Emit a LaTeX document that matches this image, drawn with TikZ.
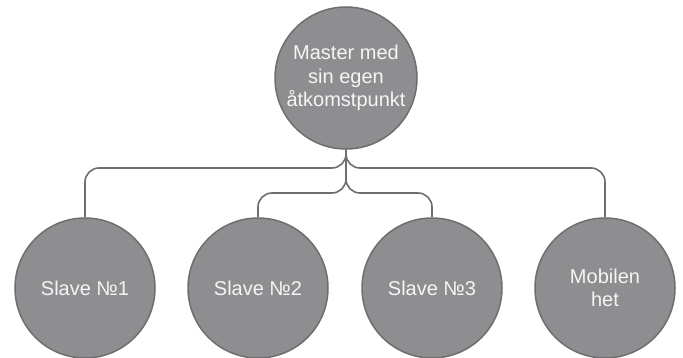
\documentclass[tikz,border=0pt]{standalone}
\usepackage{fontspec}
\setmainfont{Liberation Sans}
\begin{document}
\begin{tikzpicture}[x=1pt,y=-1pt,
  bubble/.style={circle,draw=bordergray,fill=fillgray,line width=1.5pt,minimum size=140pt,inner sep=0pt,
    text=white!92!gray,align=center,font=\fontsize{20}{23.5}\selectfont},
  link/.style={draw=bordergray,line width=1.6pt,rounded corners=14pt}]
\definecolor{fillgray}{HTML}{8E8E91}
\definecolor{bordergray}{HTML}{6E6E71}
\useasboundingbox (0,0) rectangle (683,358);
\node[bubble,minimum size=142pt] (m) at (346,78) {Master med\\sin egen\\åtkomstpunkt};
\node[bubble] (s1) at (85,288) {Slave №1};
\node[bubble] (s2) at (258,288) {Slave №2};
\node[bubble] (s3) at (432,288) {Slave №3};
\node[bubble] (s4) at (605,288) {Mobilen\\het};
\coordinate (h1) at (346,168);
\coordinate (h2) at (346,193);
\draw[link] (m.south) -- (h1) -| (s1.north);
\draw[link] (m.south) -- (h1) -| (s4.north);
\draw[link] (m.south) -- (h2) -| (s2.north);
\draw[link] (m.south) -- (h2) -| (s3.north);
\end{tikzpicture}
\end{document}
